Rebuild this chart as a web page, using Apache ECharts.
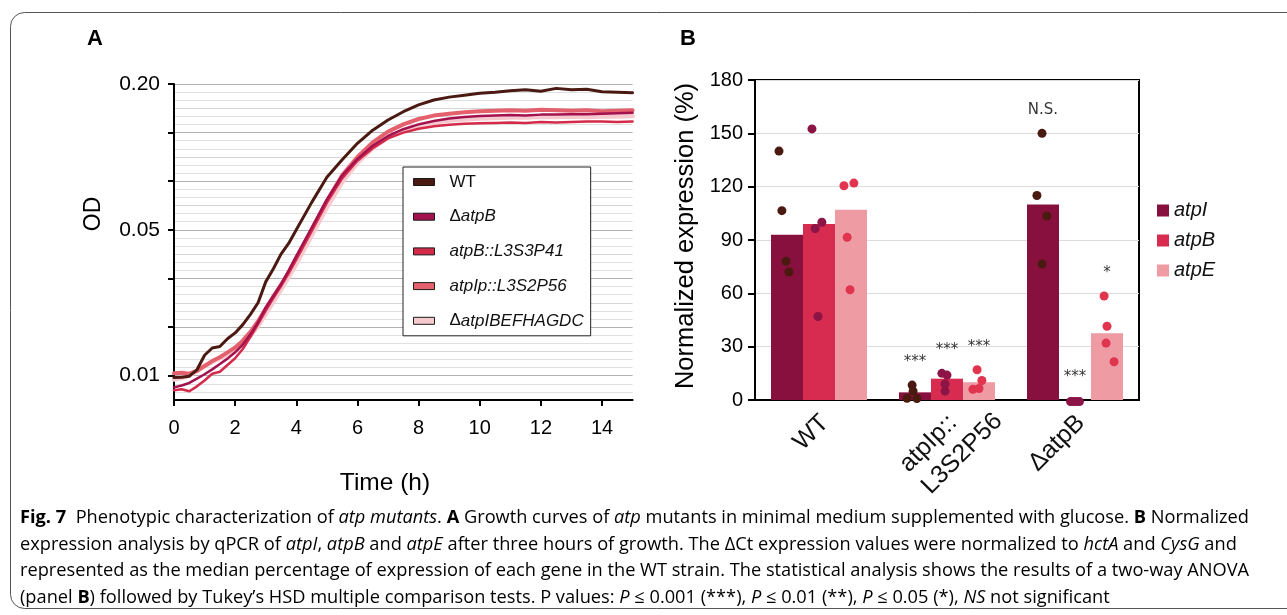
<!DOCTYPE html>
<html><head><meta charset="utf-8">
<script src="https://cdn.jsdelivr.net/npm/echarts@6/dist/echarts.min.js"></script>
<style>html,body{margin:0;padding:0;background:#fff}#c{width:1287px;height:615px}</style>
</head><body><div id="c"></div>
<script>
// ---------- Panel A: growth curves (OD vs time) ----------
const hours = [0,0.25,0.5,0.75,1,1.25,1.5,1.75,2,2.25,2.5,2.75,3,3.25,3.5,3.75,4,4.5,5,5.5,6,6.5,7,7.5,8,8.5,9,9.5,10,10.5,11,11.5,12,12.5,13,13.5,14,14.5,15];
const growthNames = ['WT','ΔatpB','atpB::L3S3P41','atpIp::L3S2P56','ΔatpIBEFHAGDC'];
const odWT = [0.00979,0.00984,0.00995,0.01067,0.01253,0.01358,0.0138,0.01503,0.01603,0.01757,0.01966,0.02236,0.02816,0.03255,0.03823,0.04303,0.05,0.06477,0.08236,0.09727,0.11381,0.12894,0.14208,0.15369,0.16396,0.17172,0.17655,0.17984,0.1832,0.1849,0.18748,0.18922,0.18661,0.19186,0.18922,0.1901,0.18575,0.1849,0.18405];
const odDeltaAtpB = [0.00879,0.00898,0.00923,0.00968,0.01016,0.01072,0.01137,0.01207,0.01294,0.0141,0.01578,0.01804,0.02119,0.02411,0.02742,0.03186,0.03743,0.05094,0.06659,0.0839,0.09817,0.11122,0.12199,0.13014,0.13629,0.14077,0.14406,0.14607,0.14743,0.14811,0.1488,0.14811,0.14949,0.14949,0.15018,0.15018,0.15087,0.15157,0.15227];
const odAtpBL3S3P41 = [0.00851,0.00861,0.00842,0.00889,0.00948,0.01022,0.01044,0.01125,0.01213,0.01343,0.01536,0.01766,0.02052,0.02359,0.02698,0.03119,0.03624,0.04947,0.06477,0.0816,0.09638,0.10868,0.1192,0.12599,0.13074,0.13379,0.13566,0.13692,0.13756,0.13819,0.13883,0.13819,0.13948,0.13883,0.13948,0.14012,0.14012,0.13948,0.14012];
const odAtpIpL3S2P56 = [0.01027,0.01033,0.01022,0.01055,0.01113,0.01175,0.01226,0.01294,0.01365,0.01472,0.01621,0.01824,0.02097,0.02398,0.02727,0.03135,0.03663,0.05,0.06598,0.0839,0.1,0.11487,0.12716,0.13629,0.1434,0.14811,0.15087,0.15298,0.1544,0.15511,0.15583,0.15511,0.15655,0.15583,0.15511,0.15583,0.1544,0.15511,0.15583];
const odDeltaOperon = [0.00958,0.00974,0.01,0.01055,0.01113,0.01162,0.01213,0.01266,0.01336,0.01425,0.01553,0.01729,0.01977,0.0226,0.02585,0.02972,0.03435,0.04689,0.06184,0.07864,0.09461,0.10868,0.12031,0.12894,0.13504,0.13883,0.14142,0.14274,0.14406,0.14473,0.1454,0.1454,0.14607,0.14607,0.14675,0.14607,0.14675,0.14675,0.14743];
const odTickValues = [0.01, 0.05, 0.2];
const odTickLabels = ['0.01', '0.05', '0.20'];
const timeTicks = [0, 2, 4, 6, 8, 10, 12, 14];

// ---------- Panel B: normalized expression ----------
const strains = ['WT', 'atpIp::\nL3S2P56', 'ΔatpB'];
const genes = ['atpI', 'atpB', 'atpE'];
const barAtpI = [93, 4.3, 110];
const barAtpB = [99, 12, 0];
const barAtpE = [107, 10, 37.5];
const ptsAtpI = [[140, 106.5, 78, 72], [8.4, 5, 1, 0.8], [150, 115, 103.5, 76.5]];
const ptsAtpB = [[152.5, 100, 96.5, 47], [15, 14, 9, 5], [-0.9, -0.9, -0.9, -0.9]];
const ptsAtpE = [[120.5, 122, 91.5, 62], [17, 11, 6, 6.5], [58.5, 41.5, 32, 21.5]];
// horizontal jitter of the dots, in bar widths
const jitAtpI = [[-0.25, -0.16, -0.03, 0.06], [-0.09, -0.06, -0.25, 0.06], [-0.03, -0.19, 0.12, -0.03]];
const jitAtpB = [[-0.22, 0.09, -0.12, -0.03], [-0.16, 0, -0.06, -0.06], [-0.14, -0.05, 0.05, 0.14]];
const jitAtpE = [[-0.22, 0.09, -0.12, -0.03], [-0.06, 0.09, -0.19, 0], [-0.09, 0, -0.03, 0.22]];
const sigAtpI = ['', '***', 'N.S.'];
const sigAtpB = ['', '***', '***'];
const sigAtpE = ['', '***', '*'];

// ---------- styles ----------
const lineColor = {'WT':'#4a1a12','ΔatpB':'#a3124f','atpB::L3S3P41':'#d42a4a','atpIp::L3S2P56':'#e4606c','ΔatpIBEFHAGDC':'#f6c9cf'};
const lineWidth = {'WT':3,'ΔatpB':2.5,'atpB::L3S3P41':2.5,'atpIp::L3S2P56':4,'ΔatpIBEFHAGDC':4.5};
const barColor = ['#87103f', '#d72c4f', '#ee9ba4'];
const dotColor = ['#4a1a10', '#8c1446', '#e0344f'];
const FONT = 'Liberation Sans';
const CAPFONT = 'Open Sans';

// OD -> position on the original figure's broken log scale (3 major steps between labelled ticks)
function odPos(od) {
  const v = odTickValues;
  let i = 0;
  while (i < v.length - 2 && od > v[i + 1]) i++;
  return 3 * i + 3 * Math.log(od / v[i]) / Math.log(v[i + 1] / v[i]);
}
const tickPos = odTickValues.map(odPos);
const majorPos = Array.from({length: 3 * (odTickValues.length - 1) + 1}, (_, i) => i);

const growthOD = [odWT, odDeltaAtpB, odAtpBL3S3P41, odAtpIpL3S2P56, odDeltaOperon];
const lineSeries = [4, 3, 2, 1, 0].map(i => {
  const n = growthNames[i];
  return {
    type: 'line', name: n, xAxisIndex: 0, yAxisIndex: 0,
    data: hours.map((h, k) => [h, odPos(growthOD[i][k])]),
    showSymbol: false, symbol: 'none', color: lineColor[n],
    lineStyle: {color: lineColor[n], width: lineWidth[n], cap: 'round', join: 'round'},
    z: 3
  };
});

const bars = [barAtpI, barAtpB, barAtpE];
const pts = [ptsAtpI, ptsAtpB, ptsAtpE];
const jits = [jitAtpI, jitAtpB, jitAtpE];
const sigs = [sigAtpI, sigAtpB, sigAtpE];
const barSeries = genes.map((g, gi) => ({
  type: 'bar', name: g, xAxisIndex: 1, yAxisIndex: 1, data: bars[gi],
  color: barColor[gi], itemStyle: {color: barColor[gi]},
  barGap: '0%', barCategoryGap: '25%', z: 2
}));
const dotSeries = genes.map((g, gi) => {
  const data = [];
  pts[gi].forEach((arr, si) => arr.forEach((v, k) => {
    data.push([si + 0.5 + (gi - 1) * 0.25 + jits[gi][si][k] * 0.25, v]);
  }));
  return {type: 'scatter', name: g + ' replicates', xAxisIndex: 2, yAxisIndex: 1, data,
    symbolSize: 9, clip: false, itemStyle: {color: dotColor[gi], opacity: 1}, z: 4};
});
const sigData = [];
genes.forEach((g, gi) => strains.forEach((s, si) => {
  if (!sigs[gi][si]) return;
  const top = Math.max(bars[gi][si], ...pts[gi][si]);
  sigData.push({value: [si + 0.5 + (gi - 1) * 0.25, top], name: sigs[gi][si]});
}));
const sigSeries = {
  type: 'scatter', name: 'significance', xAxisIndex: 2, yAxisIndex: 1, data: sigData,
  symbolSize: 1, itemStyle: {color: 'rgba(0,0,0,0)'}, clip: false, z: 5,
  label: {show: true, position: 'top', distance: 15, formatter: p => p.name,
    fontFamily: 'DejaVu Sans', fontSize: 15, color: '#000'}
};

const axisBlack = {show: true, onZero: false, lineStyle: {color: '#000', width: 2}};
const tickBlack = {show: true, inside: false, length: 6, lineStyle: {color: '#000', width: 2}};

// ---------- caption ----------
const captionLines = [
  '{b|Fig. 7}{n|  Phenotypic characterization of }{i|atp mutants}{n|. }{b|A}{n| Growth curves of }{i|atp}{n| mutants in minimal medium supplemented with glucose. }{b|B}{n| Normalized}',
  '{n|expression analysis by qPCR of }{i|atpI}{n|, }{i|atpB}{n| and }{i|atpE}{n| after three hours of growth. The ΔCt expression values were normalized to }{i|hctA}{n| and }{i|CysG}{n| and}',
  '{n|represented as the median percentage of expression of each gene in the WT strain. The statistical analysis shows the results of a two-way ANOVA}',
  '{n|(panel }{b|B}{n|) followed by Tukey’s HSD multiple comparison tests. P values: }{i|P}{n| ≤ 0.001 (***), }{i|P}{n| ≤ 0.01 (**), }{i|P}{n| ≤ 0.05 (*), }{i|NS}{n| not significant}'
];
const captionY = [518, 544.5, 571, 597.5];
const captionFirstLineWidth = 1230;

const mctx = document.createElement('canvas').getContext('2d');
function richWidth(str, size, fam) {
  let w = 0; const re = /\{(\w)\|([^}]*)\}/g; let m;
  while ((m = re.exec(str))) {
    const st = m[1] === 'b' ? 'bold ' : (m[1] === 'i' ? 'italic ' : '');
    mctx.font = st + size + 'px "' + fam + '"';
    w += mctx.measureText(m[2]).width;
  }
  return w;
}
const capSize = 18 * captionFirstLineWidth / richWidth(captionLines[0], 18, CAPFONT);
const capN = {fontFamily: CAPFONT, fontSize: capSize, color: '#231f20'};
const capRich = {
  n: capN,
  b: Object.assign({}, capN, {fontWeight: 'bold'}),
  i: Object.assign({}, capN, {fontStyle: 'italic'})
};

const graphics = [
  {type: 'rect', shape: {x: 10.5, y: 12.5, width: 1300, height: 596, r: 14}, style: {fill: 'none', stroke: '#555', lineWidth: 1}, z: 0, silent: true},
  {type: 'text', x: 95, y: 39, style: {text: 'A', fontFamily: FONT, fontSize: 22, fontWeight: 'bold', fill: '#000', align: 'center', verticalAlign: 'middle'}},
  {type: 'text', x: 688, y: 39, style: {text: 'B', fontFamily: FONT, fontSize: 22, fontWeight: 'bold', fill: '#000', align: 'center', verticalAlign: 'middle'}},
  {type: 'text', x: 94, y: 214, rotation: Math.PI / 2, style: {text: 'OD', fontFamily: FONT, fontSize: 23, fill: '#000', align: 'center', verticalAlign: 'middle'}},
  {type: 'text', x: 385, y: 483, style: {text: 'Time (h)', fontFamily: FONT, fontSize: 24.5, fill: '#000', align: 'center', verticalAlign: 'middle'}},
  {type: 'text', x: 686, y: 236, rotation: Math.PI / 2, style: {text: 'Normalized expression (%)', fontFamily: FONT, fontSize: 25.5, fill: '#000', align: 'center', verticalAlign: 'middle'}}
].concat(captionLines.map((t, i) => ({type: 'text', x: 20, y: captionY[i],
  style: {text: t, rich: capRich, align: 'left', verticalAlign: 'middle'}})));

const option = {
  animation: false,
  backgroundColor: '#fff',
  textStyle: {fontFamily: FONT},
  grid: [
    {left: 174, top: 84, width: 458.6, height: 316, show: false},
    {left: 755, top: 80, width: 384, height: 320, show: true, borderColor: '#000', borderWidth: 2, backgroundColor: 'transparent'}
  ],
  legend: [
    {data: growthNames, orient: 'vertical', left: 403, top: 167, padding: [5, 7, 5, 10], itemGap: 14.7,
      itemWidth: 21, itemHeight: 7, icon: 'rect', selectedMode: false,
      backgroundColor: '#fff', borderColor: '#222', borderWidth: 1, borderRadius: 0,
      itemStyle: {borderColor: '#1a1a1a', borderWidth: 1},
      formatter: n => n === 'WT' ? '{g|}{n|WT}' : (n[0] === 'Δ' ? '{g|}{n|Δ}{i|' + n.slice(1) + '}' : '{g|}{i|' + n + '}'),
      textStyle: {fontSize: 17, lineHeight: 20, color: '#111', rich: {
        g: {width: 10, fontSize: 17, lineHeight: 20},
        n: {fontSize: 17, lineHeight: 20, color: '#111', fontFamily: FONT},
        i: {fontSize: 17, lineHeight: 20, color: '#111', fontStyle: 'italic', fontFamily: FONT}}}},
    {data: genes, orient: 'vertical', left: 1157, top: 200.5, padding: 0, itemGap: 10,
      itemWidth: 12, itemHeight: 12, icon: 'rect', selectedMode: false,
      textStyle: {fontSize: 20, lineHeight: 20, fontStyle: 'italic', color: '#111', fontFamily: FONT}}
  ],
  xAxis: [
    {gridIndex: 0, type: 'value', min: 0, max: 15, interval: 2,
      axisLine: axisBlack, axisTick: Object.assign({}, tickBlack, {customValues: timeTicks}),
      axisLabel: {customValues: timeTicks, fontSize: 20, color: '#000', margin: 18},
      splitLine: {show: false}},
    {gridIndex: 1, type: 'category', data: strains,
      axisLine: axisBlack, axisTick: {show: false}, axisLabel: {show: false}},
    {gridIndex: 1, type: 'value', min: 0, max: strains.length, show: false}
  ],
  yAxis: [
    {gridIndex: 0, type: 'value', min: -0.5, max: 6, interval: 0.5,
      axisLine: axisBlack,
      axisTick: Object.assign({}, tickBlack, {customValues: majorPos}),
      axisLabel: {customValues: tickPos, fontSize: 21, color: '#000', margin: 14,
        formatter: v => { const k = tickPos.findIndex(p => Math.abs(p - v) < 1e-6); return k >= 0 ? odTickLabels[k] : ''; }},
      splitLine: {show: false}},
    {gridIndex: 1, type: 'value', min: 0, max: 180, interval: 30,
      axisLine: axisBlack, axisTick: Object.assign({}, tickBlack, {length: 7}),
      axisLabel: {fontSize: 20, color: '#000', margin: 12},
      splitLine: {show: true, lineStyle: {color: '#dcdcdc', width: 1}}},
    {gridIndex: 0, type: 'value', position: 'right', min: -0.5, max: 6, interval: 0.5,
      axisLine: {show: false}, axisTick: {show: false}, axisLabel: {show: false},
      splitLine: {show: true, lineStyle: {color: ['#d6d6d6', '#b0b0b0'], width: 1}},
      minorTick: {show: false, splitNumber: 3},
      minorSplitLine: {show: true, lineStyle: {color: '#e0e0e0', width: 1}}}
  ],
  series: lineSeries.concat(barSeries, dotSeries, [sigSeries]),
  graphic: graphics
};
const chart = echarts.init(document.getElementById('c'));
chart.setOption(option);

// rotated category labels of panel B, anchored at the category positions given by the axis
const catFontSize = 25;
const DIR = [Math.SQRT1_2, -Math.SQRT1_2], DOWN = [Math.SQRT1_2, Math.SQRT1_2];
const catGraphics = [];
strains.forEach((s, si) => {
  const p = chart.convertToPixel({gridIndex: 1}, [si, 0]);
  const lines = s.split('\n');
  mctx.font = catFontSize + 'px "' + FONT + '"';
  const w0 = mctx.measureText(lines[0]).width;
  const r1 = [p[0] + 6, p[1] + 19];
  lines.forEach((ln, li) => {
    const w = mctx.measureText(ln).width;
    const shift = (w - w0);
    const x = r1[0] + shift * DIR[0] + li * 31 * DOWN[0];
    const y = r1[1] + shift * DIR[1] + li * 31 * DOWN[1];
    catGraphics.push({type: 'text', x, y, rotation: Math.PI / 4,
      style: {text: ln, fontFamily: FONT, fontSize: catFontSize, fill: '#111', align: 'right', verticalAlign: 'middle'}});
  });
});
chart.setOption({graphic: graphics.concat(catGraphics)});
</script>
</body></html>
